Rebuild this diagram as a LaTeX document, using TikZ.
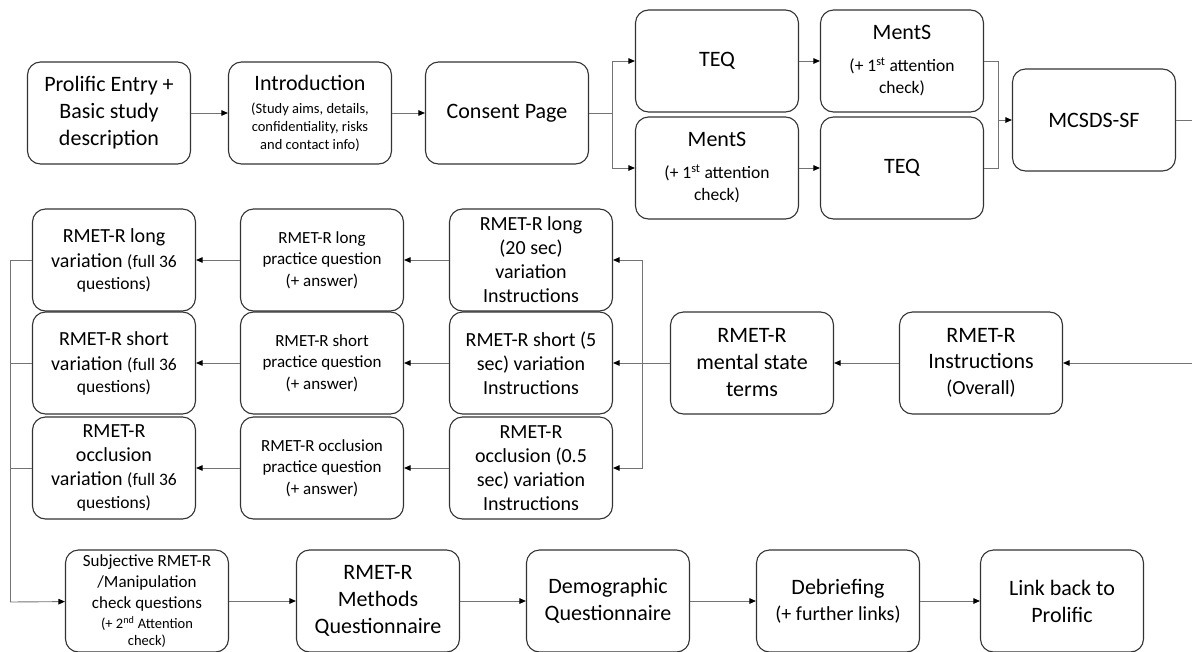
\documentclass[tikz,border=0pt]{standalone}
\usepackage{fontspec}
\setmainfont{Carlito}
\usetikzlibrary{arrows.meta}

\newcommand{\boxmid}{\fontsize{20}{24}\selectfont}
\newcommand{\boxsub}{\fontsize{17.5}{22}\selectfont}
\newcommand{\boxnote}{\fontsize{14.5}{18}\selectfont}

\begin{document}
\begin{tikzpicture}[
    x=1pt, y=-1pt,
    block/.style={rectangle, draw=black!80, line width=1.1pt, rounded corners=13pt, minimum width=163pt, minimum height=102pt, align=center, inner sep=2pt, font=\fontsize{22}{27}\selectfont},
    midblock/.style={block, font=\boxmid},
    smallblock/.style={block, font=\fontsize{17}{21.5}\selectfont},
    link/.style={draw=black!55, line width=0.9pt},
    arrow/.style={link, -{Triangle[length=6.5pt, width=5.5pt, color=black]}},
]
\useasboundingbox (0,0) rectangle (1192,651);

% first row
\node[block] (prolific) at (109,113) {Prolific Entry +\\ Basic study\\ description};
\node[block] (intro) at (310,113) {Introduction\\[-4pt]\boxnote (Study aims, details,\\[-9pt]\boxnote confidentiality, risks\\[-9pt]\boxnote and contact info)};
\node[block] (consent) at (507,113) {Consent Page};
\node[block] (teqA) at (717,61) {TEQ};
\node[block] (mentsA) at (902,61) {MentS\\[5pt]\boxsub (+ 1\textsuperscript{st} attention\\[-5pt]\boxsub check)};
\node[block] (mentsB) at (717,168) {MentS\\[5pt]\boxsub (+ 1\textsuperscript{st} attention\\[-5pt]\boxsub check)};
\node[block] (teqB) at (902,168) {TEQ};
\node[block] (mcsds) at (1094,120) {MCSDS-SF};

% second row
\node[block] (instr) at (981,363) {RMET-R\\[-1pt] Instructions\\[-1pt]\boxmid (Overall)};
\node[block] (terms) at (752,363) {RMET-R\\ mental state\\ terms};
\node[midblock] (longInstr) at (531,260) {RMET-R long\\ (20 sec)\\ variation\\ Instructions};
\node[midblock] (shortInstr) at (531,363) {RMET-R short (5\\ sec) variation\\ Instructions};
\node[midblock] (occInstr) at (531,468) {RMET-R\\ occlusion (0.5\\ sec) variation\\ Instructions};
\node[smallblock] (longPrac) at (322,260) {RMET-R long\\ practice question\\ (+ answer)};
\node[smallblock] (shortPrac) at (322,363) {RMET-R short\\ practice question\\ (+ answer)};
\node[smallblock] (occPrac) at (322,468) {RMET-R occlusion\\ practice question\\ (+ answer)};
\node[midblock] (longVar) at (114,260) {RMET-R long\\[1pt] variation \boxsub (full 36\\[-2pt]\boxsub questions)};
\node[midblock] (shortVar) at (114,363) {RMET-R short\\[1pt] variation \boxsub (full 36\\[-2pt]\boxsub questions)};
\node[midblock] (occVar) at (114,468) {RMET-R\\ occlusion\\ variation \boxsub (full 36\\[-1pt]\boxsub questions)};

% third row
\node[block, font=\fontsize{17}{21}\selectfont] (subj) at (147,601) {Subjective RMET-R\\ /Manipulation\\ check questions\\[-1pt]\boxnote (+ 2\textsuperscript{nd} Attention\\[-4pt]\boxnote check)};
\node[block] (methods) at (378,601) {RMET-R\\ Methods\\ Questionnaire};
\node[block] (demo) at (608,601) {Demographic\\ Questionnaire};
\node[block] (debrief) at (838,601) {Debriefing\\[-1pt]\boxmid (+ further links)};
\node[block] (back) at (1062,601) {Link back to\\ Prolific};

% junctions and page edges
\coordinate (split) at (612,113);
\coordinate (merge) at (998,120);
\coordinate (edgeTop) at (1192,120);
\coordinate (edgeMid) at (1192,363);
\coordinate (bus) at (642,363);
\coordinate (leftBus) at (10,602);

\draw[arrow] (prolific) -- (intro);
\draw[arrow] (intro) -- (consent);
\draw[link] (consent) -- (split);
\draw[arrow] (split) |- (teqA);
\draw[arrow] (split) |- (mentsB);
\draw[arrow] (teqA) -- (mentsA);
\draw[arrow] (mentsB) -- (teqB);
\draw[link] (mentsA) -| (merge);
\draw[link] (teqB) -| (merge);
\draw[arrow] (merge) -- (mcsds);
\draw[link] (mcsds) -- (edgeTop);

\draw[arrow] (edgeMid) -- (instr);
\draw[arrow] (instr) -- (terms);
\draw[link] (terms) -- (bus);
\draw[arrow] (bus) |- (longInstr);
\draw[arrow] (bus) -- (shortInstr);
\draw[arrow] (bus) |- (occInstr);
\foreach \v in {long, short, occ} {
    \draw[arrow] (\v Instr) -- (\v Prac);
    \draw[arrow] (\v Prac) -- (\v Var);
    \draw[link] (\v Var) -| (leftBus);
}

\draw[arrow] (leftBus) -- (subj);
\draw[arrow] (subj) -- (methods);
\draw[arrow] (methods) -- (demo);
\draw[arrow] (demo) -- (debrief);
\draw[arrow] (debrief) -- (back);
\end{tikzpicture}
\end{document}
